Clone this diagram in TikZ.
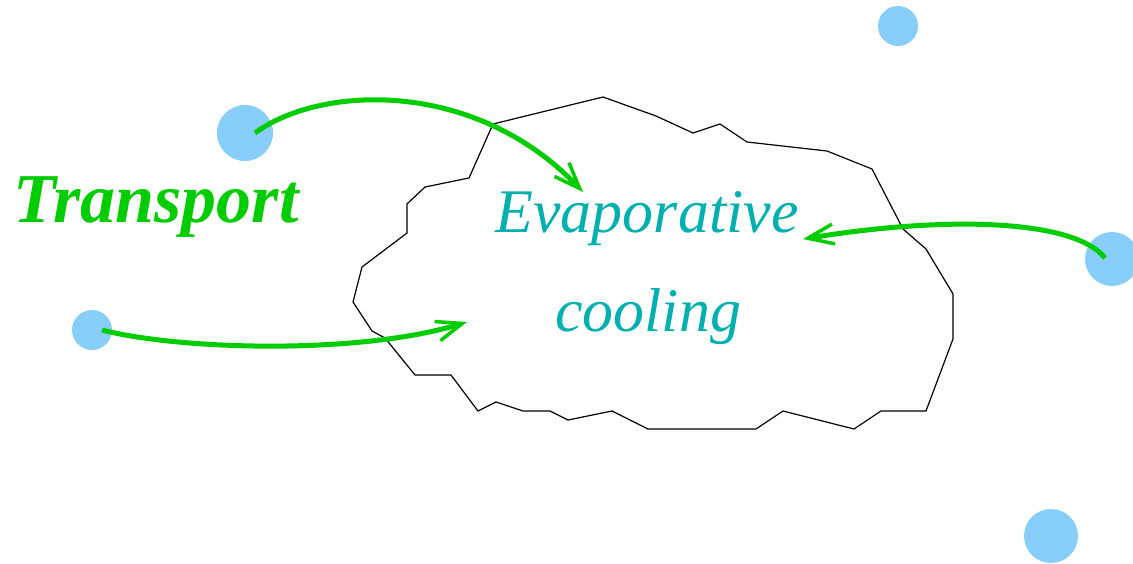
\documentclass[tikz,border=0pt]{standalone}
\usepackage{fontspec}
\setmainfont{Liberation Serif}
\usetikzlibrary{arrows.meta}
\definecolor{dropblue}{RGB}{135,206,250}
\definecolor{arrgreen}{RGB}{0,204,0}
\definecolor{tealtext}{RGB}{0,175,175}
\tikzset{
  drop/.style={circle, fill=dropblue, draw=none, inner sep=0pt},
  flow/.style={draw=arrgreen, line width=5pt, -{Straight Barb[length=26pt,width=20pt,line width=3.5pt]}},
  label/.style={text=tealtext, inner sep=0pt, anchor=base, font=\fontsize{62}{70}\selectfont\itshape},
  cloud/.style={draw=black, line width=1.2pt, line join=miter}
}
\begin{document}
\begin{tikzpicture}[x=1pt,y=-1pt]
\useasboundingbox (0,0) rectangle (1133,563);
% droplets
\node[drop, minimum size=56pt] (d1) at (245,133) {};
\node[drop, minimum size=40pt] (d2) at (898,26) {};
\node[drop, minimum size=40pt] (d3) at (92,330) {};
\node[drop, minimum size=54pt] (d4) at (1112,259) {};
\node[drop, minimum size=54pt] (d5) at (1051,536) {};
% cloud outline
\draw[cloud] (493,124) -- (603,97) -- (656,116) -- (693,133) -- (720,124) -- (747,142)
  -- (827,151) -- (872,169) -- (903,229) -- (926,249) -- (953,294) -- (953,339)
  -- (926,411) -- (881,411) -- (854,429) -- (783,411) -- (756,429) -- (648,429)
  -- (612,411) -- (568,420) -- (550,411) -- (523,411) -- (496,402) -- (478,411)
  -- (451,375) -- (415,375) -- (385,338) -- (372,331) -- (353,302) -- (362,267)
  -- (407,233) -- (407,204) -- (425,187) -- (469,178) -- cycle;
% texts
\node[label] (evap) at (647,232) {Evaporative};
\node[label] (cool) at (648,331) {cooling};
\node[text=arrgreen, inner sep=0pt, anchor=base, font=\fontsize{70}{76}\selectfont\bfseries\itshape] (tr) at (156,222) {Transport};
% arrow endpoints
\coordinate (s1) at (255,133);
\coordinate (e1) at (583,192);
\coordinate (s2) at (1105,258);
\coordinate (e2) at (803,239);
\coordinate (s3) at (102,330);
\coordinate (e3) at (467,322);
\draw[flow] (s1) .. controls (320,85) and (475,78) .. (e1);
\draw[flow] (s2) .. controls (1075,220) and (950,215) .. (e2);
\draw[flow] (s3) .. controls (180,350) and (360,355) .. (e3);
\end{tikzpicture}
\end{document}
